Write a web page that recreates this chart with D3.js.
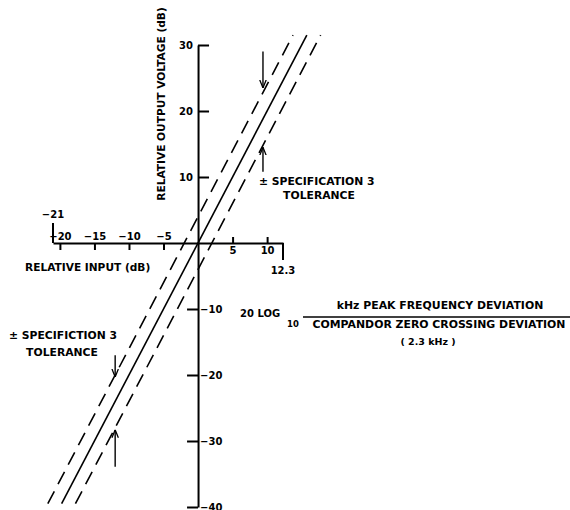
<!DOCTYPE html>
<meta charset="utf-8">
<style>
body { margin: 0; background: #fff; }
svg text {
  font-family: "DejaVu Sans", "Liberation Sans", Arial, sans-serif;
  font-weight: bold;
  fill: #000;
}
.axis path, .axis line { stroke: #000; stroke-width: 2; }
.axis text { font-size: 10px; font-family: "DejaVu Sans", sans-serif; }
.curve { fill: none; stroke: #000; stroke-width: 1.6; }
.dashed { stroke-dasharray: 14,8; }
.arrow { stroke: #000; stroke-width: 1.4; }
</style>
<svg width="570" height="510"></svg>
<script src="https://cdn.jsdelivr.net/npm/d3@7"></script>
<script>

// values (dB)
var xTicksNeg = [-20, -15, -10, -5];
var xTicksPos = [5, 10];
var yTicksPos = [10, 20, 30];
var yTicksNeg = [-10, -20, -30, -40];
var xEnds = [-21, 12.3];

// transfer line (2:1 expansion) and the +/- tolerance lines, [input, output]
var solidLine   = [[-19.75, -39.5], [15.75, 31.5]];
var upperDashed = [[-21.75, -39.5], [13.75, 31.5]];
var lowerDashed = [[-17.75, -39.5], [17.75, 31.5]];

// tolerance arrows: input position, output start -> end
var arrows = [
  { x: 9.4,   from: 29,    to: 23.5 },
  { x: 9.4,   from: 10.8,  to: 14.5 },
  { x: -12.0, from: -17,   to: -20.3 },
  { x: -12.0, from: -33.9, to: -28.3 }
];

var svg = d3.select("svg");

var x = d3.scaleLinear().domain([-21, 12.3]).range([53, 283]);
var y = d3.scaleLinear().domain([-40, 30]).range([507, 45]);

svg.append("defs").append("marker")
    .attr("id", "head")
    .attr("viewBox", "0 0 10 10")
    .attr("refX", 10).attr("refY", 5)
    .attr("markerWidth", 8).attr("markerHeight", 8)
    .attr("markerUnits", "userSpaceOnUse")
    .attr("orient", "auto")
  .append("path")
    .attr("d", "M0,1L10,5L0,9")
    .attr("fill", "none")
    .attr("stroke", "#000")
    .attr("stroke-width", 1.6);

// y axis: upper part labels left / ticks right, lower part the reverse
svg.append("g")
    .attr("class", "axis")
    .attr("transform", "translate(" + x(0) + ",0)")
    .call(d3.axisLeft(y).tickValues(yTicksPos).tickSizeInner(-11).tickSizeOuter(0).tickPadding(5))
    .call(function(g) { g.select(".domain").remove(); });

svg.append("g")
    .attr("class", "axis")
    .attr("transform", "translate(" + x(0) + ",0)")
    .call(d3.axisRight(y).tickValues(yTicksNeg).tickSizeInner(-11).tickSizeOuter(0).tickPadding(2));

// x axis: negative ticks hang down with labels above, positive ticks go up with labels below
svg.append("g")
    .attr("class", "axis")
    .attr("transform", "translate(0," + y(0) + ")")
    .call(d3.axisTop(x).tickValues(xTicksNeg).tickSizeInner(-7).tickSizeOuter(0).tickPadding(3));

svg.append("g")
    .attr("class", "axis")
    .attr("transform", "translate(0," + y(0) + ")")
    .call(d3.axisBottom(x).tickValues(xTicksPos).tickSizeInner(-6).tickSizeOuter(0).tickPadding(4))
    .call(function(g) { g.select(".domain").remove(); });

// end markers of the input range
svg.append("line").attr("class", "arrow").style("stroke-width", 2)
    .attr("x1", x(xEnds[0])).attr("x2", x(xEnds[0]))
    .attr("y1", y(0)).attr("y2", y(0) - 20);
svg.append("text").attr("x", x(xEnds[0])).attr("y", y(0) - 25)
    .attr("text-anchor", "middle").style("font-size", "10px")
    .text("\u2212" + Math.abs(xEnds[0]));
svg.append("line").attr("class", "arrow").style("stroke-width", 2)
    .attr("x1", x(xEnds[1])).attr("x2", x(xEnds[1]))
    .attr("y1", y(0)).attr("y2", y(0) + 17);
svg.append("text").attr("x", x(xEnds[1])).attr("y", y(0) + 31)
    .attr("text-anchor", "middle").style("font-size", "10px")
    .text(xEnds[1]);

// lines
var line = d3.line().x(function(d) { return x(d[0]); }).y(function(d) { return y(d[1]); });

svg.append("path").datum(solidLine).attr("class", "curve").attr("d", line);
svg.append("path").datum(upperDashed).attr("class", "curve dashed").attr("d", line);
svg.append("path").datum(lowerDashed).attr("class", "curve dashed").attr("d", line);

svg.selectAll(".tol")
    .data(arrows)
  .enter().append("line")
    .attr("class", "arrow tol")
    .attr("x1", function(d) { return x(d.x); })
    .attr("x2", function(d) { return x(d.x); })
    .attr("y1", function(d) { return y(d.from); })
    .attr("y2", function(d) { return y(d.to); })
    .attr("marker-end", "url(#head)");

// axis titles
svg.append("text")
    .attr("transform", "translate(165,104)rotate(-90)")
    .attr("text-anchor", "middle")
    .style("font-size", "10.6px")
    .text("RELATIVE OUTPUT VOLTAGE (dB)");

svg.append("text")
    .attr("x", 25).attr("y", 271)
    .style("font-size", "10.6px")
    .text("RELATIVE INPUT (dB)");

// tolerance notes
var note = svg.append("g").style("font-size", "10.8px");
note.append("text").attr("x", 259).attr("y", 185).text("\u00b1 SPECIFICATION 3");
note.append("text").attr("x", 319).attr("y", 199).attr("text-anchor", "middle").text("TOLERANCE");
note.append("text").attr("x", 9).attr("y", 339).text("\u00b1 SPECIFICTION 3");
note.append("text").attr("x", 62).attr("y", 356).attr("text-anchor", "middle").text("TOLERANCE");

// ratio formula
var f = svg.append("g").style("font-size", "10px");
f.append("text").attr("x", 240).attr("y", 317).text("20 LOG");
f.append("text").attr("x", 287).attr("y", 327).style("font-size", "8.5px").text("10");
f.append("line").attr("x1", 303).attr("x2", 570).attr("y1", 317).attr("y2", 317)
    .attr("stroke", "#000").attr("stroke-width", 1.5);
f.append("text").attr("x", 440).attr("y", 309).attr("text-anchor", "middle").style("font-size", "10.9px").text("kHz PEAK FREQUENCY DEVIATION");
f.append("text").attr("x", 439).attr("y", 328).attr("text-anchor", "middle").style("font-size", "10.9px").text("COMPANDOR ZERO CROSSING DEVIATION");
f.append("text").attr("x", 428).attr("y", 345).attr("text-anchor", "middle").style("font-size", "9.5px").text("( 2.3 kHz )");

</script>
